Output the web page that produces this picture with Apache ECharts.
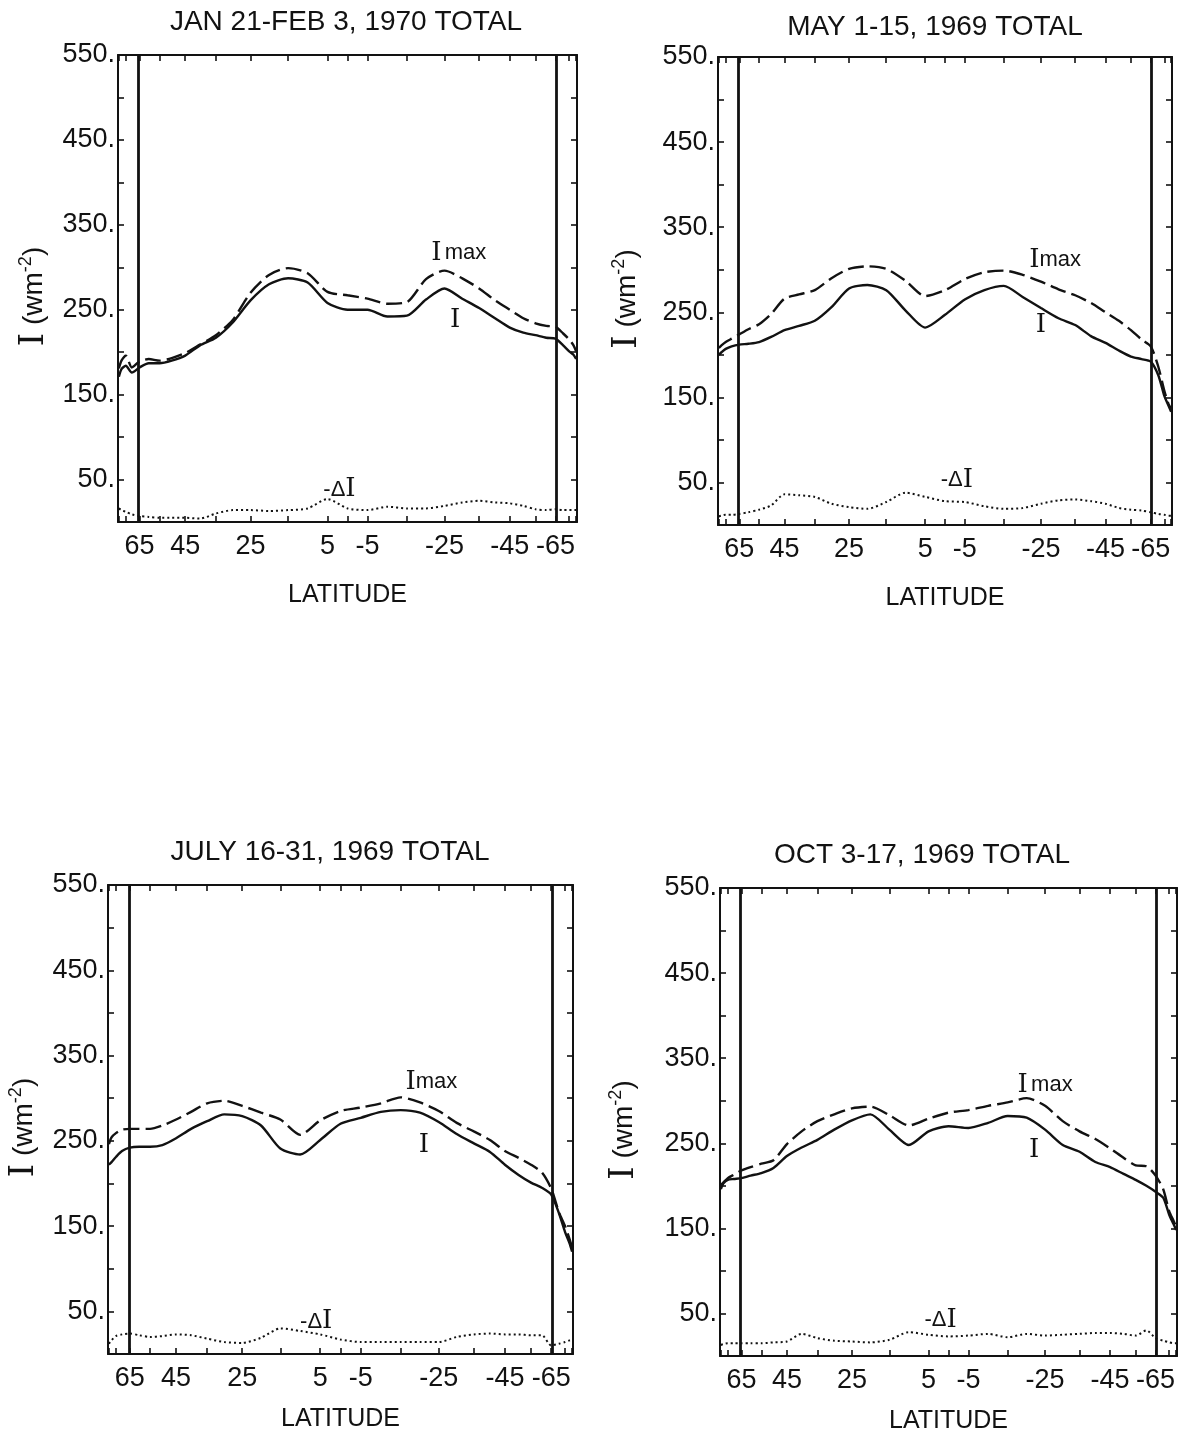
<!DOCTYPE html>
<html>
<head>
<meta charset="utf-8">
<title>Zonal mean irradiance by latitude</title>
<script src="https://cdn.jsdelivr.net/npm/echarts@6/dist/echarts.min.js"></script>
<style>
  html, body { margin: 0; padding: 0; background: #ffffff; }
  #chart { width: 1180px; height: 1439px; }
</style>
</head>
<body>
<div id="chart"></div>
<script>
// Latitude nodes (degrees, north positive) shared by every curve
const LATITUDES = [85, 80, 75, 70, 65, 60, 55, 50, 45, 40, 35, 30, 25, 20, 15, 10, 5, 0,
  -5, -10, -15, -20, -25, -30, -35, -40, -45, -50, -55, -60, -65, -70, -75, -80, -85];

// Axis furniture
const TICK_LATITUDES = [85, 75, 65, 55, 45, 35, 25, 15, 5, 0, -5, -15, -25, -35, -45, -55, -65, -75, -85];
const LABEL_LATITUDES = [65, 45, 25, 5, -5, -25, -45, -65];
const BOUNDARY_LATITUDES = [65, -65];
const Y_MIN = 0, Y_MAX = 550, Y_STEP = 50;

const TITLES = [
  'JAN 21-FEB 3, 1970 TOTAL',
  'MAY 1-15, 1969 TOTAL',
  'JULY 16-31, 1969 TOTAL',
  'OCT 3-17, 1969 TOTAL'
];

// Jan 21 - Feb 3, 1970
const janI = [171, 180, 184, 176, 182, 187, 187, 190, 196, 208, 217, 235, 261, 280, 287, 282, 258, 250,
  250, 242, 243, 262, 275, 263, 252, 240, 229, 223, 220, 217, 216, 208, 201, 197, 192];
const janImax = [181, 190, 196, 182, 189, 192, 190, 193, 199, 209, 220, 238, 270, 291, 299, 293, 271, 267,
  263, 257, 259, 286, 296, 287, 275, 261, 250, 240, 234, 231, 230, 222, 215, 208, 201];
const janDeltaI = [16, 14, 12, 9, 7, 6, 5, 5, 5, 4, 10, 14, 14, 13, 14, 16, 27, 16,
  14, 18, 16, 16, 19, 23, 25, 23, 22, 19, 15, 14, 15, 14, 14, 14, 14];

// May 1-15, 1969
const mayI = [200, 203, 207, 210, 212, 213, 215, 221, 229, 234, 240, 256, 278, 282, 276, 252, 232, 247,
  265, 276, 281, 268, 255, 243, 235, 222, 214, 205, 198, 195, 192, 176, 152, 140, 133];
const mayImax = [208, 211, 215, 219, 224, 230, 236, 248, 266, 271, 276, 290, 301, 304, 301, 287, 269, 276,
  289, 297, 299, 294, 286, 277, 270, 261, 250, 240, 229, 218, 210, 186, 158, 142, 137];
const mayDeltaI = [10, 11, 12, 12, 13, 15, 18, 23, 36, 35, 33, 25, 21, 19, 27, 38, 33, 28,
  27, 22, 19, 20, 25, 29, 30, 28, 25, 20, 18, 17, 15, 13, 12, 11, 11];

// July 16-31, 1969
const julI = [222, 225, 231, 238, 242, 243, 243, 245, 253, 264, 273, 281, 279, 268, 241, 234, 251, 270,
  277, 284, 286, 283, 272, 258, 247, 237, 222, 210, 201, 195, 187, 165, 143, 130, 120];
const julImax = [246, 254, 259, 263, 264, 264, 264, 268, 275, 284, 294, 297, 291, 283, 275, 257, 274, 285,
  289, 294, 301, 295, 285, 271, 261, 251, 238, 230, 222, 213, 194, 166, 150, 135, 125];
const julDeltaI = [12, 16, 21, 23, 24, 22, 20, 21, 23, 22, 18, 14, 13, 19, 30, 27, 23, 17,
  14, 14, 14, 14, 14, 20, 23, 24, 23, 23, 22, 22, 10, 12, 14, 16, 17];

// Oct 3-17, 1969
const octI = [196, 203, 207, 208, 209, 212, 215, 221, 235, 245, 254, 266, 277, 284, 266, 248, 264, 270,
  268, 274, 282, 280, 266, 248, 240, 228, 222, 214, 207, 200, 193, 186, 166, 155, 148];
const octImax = [201, 204, 209, 213, 218, 222, 226, 230, 249, 264, 276, 284, 291, 293, 283, 271, 279, 286,
  289, 294, 298, 303, 294, 276, 264, 255, 244, 233, 224, 223, 212, 196, 170, 159, 152];
const octDeltaI = [13, 14, 15, 15, 15, 15, 15, 16, 17, 26, 21, 18, 17, 16, 19, 28, 25, 23,
  24, 26, 22, 26, 24, 25, 26, 27, 27, 26, 24, 30, 21, 18, 16, 15, 15];

const SERIES_SETS = [
  { I: janI, Imax: janImax, dI: janDeltaI },
  { I: mayI, Imax: mayImax, dI: mayDeltaI },
  { I: julI, Imax: julImax, dI: julDeltaI },
  { I: octI, Imax: octImax, dI: octDeltaI }
];

// ---- layout and styling ----
const INK = '#121212';
const SANS = 'Liberation Sans';
const SERIF = 'DejaVu Serif';

// Plot boxes, two rows of two panels
const GRID_RECTS = [
  { left: 118, top: 55, width: 459, height: 467 },
  { left: 718, top: 57, width: 454, height: 468 },
  { left: 108, top: 885, width: 465, height: 469 },
  { left: 720, top: 888, width: 457, height: 468 }
];
const TITLE_POS = [[346, 22], [935, 27], [330, 852], [922, 855]];
const Y_NAME_GAP = [67, 74, 67, 79];
const X_NAME_GAP = [61, 61, 53, 53];

// Curve annotations: [latitude, value] anchors and text
const NOTE_IMAX = [[-29, 317], [-29, 311], [-23, 319], [-25, 318]];
const NOTE_I = [[-28, 238], [-25, 235], [-21, 245], [-22, 242]];
const NOTE_DI = [[2, 38], [-3, 53], [6, 38], [2, 42]];
const IMAX_TEXT = ['{i|I} {m|max}', '{i|I}{m|max}', '{i|I}{m|max}', '{i|I} {m|max}'];

// Latitude axis is area-weighted: position proportional to sin(latitude)
const DEG = Math.PI / 180;
const toAxis = lat => Math.sin(lat * DEG);
const fromAxis = v => Math.round(Math.asin(Math.max(-1, Math.min(1, v))) / DEG);

const NOTE_RICH = {
  i: { fontFamily: SERIF, fontSize: 26, color: INK },
  m: { fontFamily: SANS, fontSize: 22, color: INK }
};

function pairs(values) {
  return LATITUDES.map((lat, k) => [toAxis(lat), values[k]]);
}

function note(pos, text) {
  return {
    coord: [toAxis(pos[0]), pos[1]],
    label: { show: true, position: 'inside', formatter: text, rich: NOTE_RICH }
  };
}

const grids = [], xAxes = [], yAxes = [], series = [], graphics = [];

GRID_RECTS.forEach((rect, p) => {
  grids.push(Object.assign({ containLabel: false, show: false }, rect));

  const xCommon = {
    gridIndex: p, type: 'value', min: -1, max: 1, inverse: true,
    axisLine: { show: true, onZero: false, lineStyle: { color: INK, width: 2 } },
    axisTick: { show: true, inside: true, length: 6,
      customValues: TICK_LATITUDES.map(toAxis), lineStyle: { color: INK, width: 1.6 } },
    splitLine: { show: false }
  };
  xAxes.push(Object.assign({}, xCommon, {
    position: 'bottom',
    name: 'LATITUDE', nameLocation: 'middle', nameGap: X_NAME_GAP[p],
    nameTextStyle: { fontFamily: SANS, fontSize: 25, color: INK },
    axisLabel: { show: true, customValues: LABEL_LATITUDES.map(toAxis),
      formatter: v => String(fromAxis(v)), margin: 11,
      fontFamily: SANS, fontSize: 27, color: INK }
  }));
  xAxes.push(Object.assign({}, xCommon, { position: 'top', axisLabel: { show: false } }));

  const yCommon = {
    gridIndex: p, type: 'value', min: Y_MIN, max: Y_MAX, interval: Y_STEP,
    axisLine: { show: true, onZero: false, lineStyle: { color: INK, width: 2 } },
    axisTick: { show: true, inside: true, length: 6, lineStyle: { color: INK, width: 1.6 } },
    splitLine: { show: false }
  };
  yAxes.push(Object.assign({}, yCommon, {
    position: 'left',
    name: '{i|I}{t| (wm}{s|-2}{t|)}', nameLocation: 'middle', nameGap: Y_NAME_GAP[p],
    nameTextStyle: { fontFamily: SANS, fontSize: 28, color: INK, padding: [0, 16, 0, 0],
      rich: {
        i: { fontFamily: SERIF, fontSize: 34, color: INK },
        t: { fontFamily: SANS, fontSize: 28, color: INK },
        s: { fontFamily: SANS, fontSize: 18, color: INK, verticalAlign: 'top' }
      } },
    axisLabel: { show: true, margin: 3, fontFamily: SANS, fontSize: 27, color: INK,
      formatter: v => (v % 100 === 50 ? v + '.' : '') }
  }));
  yAxes.push(Object.assign({}, yCommon, { position: 'right', axisLabel: { show: false } }));

  const set = SERIES_SETS[p];
  const axisRef = { xAxisIndex: 2 * p, yAxisIndex: 2 * p };

  series.push(Object.assign({
    type: 'line', name: 'I', data: pairs(set.I), showSymbol: false, symbol: 'none', smooth: 0.25,
    lineStyle: { color: INK, width: 2.4, type: 'solid' },
    silent: true, animation: false,
    markLine: {
      silent: true, animation: false, symbol: ['none', 'none'],
      label: { show: false },
      lineStyle: { color: INK, width: 2.8, type: 'solid' },
      data: BOUNDARY_LATITUDES.map(lat => ({ xAxis: toAxis(lat) }))
    },
    markPoint: {
      silent: true, animation: false, symbol: 'circle', symbolSize: 1,
      itemStyle: { color: 'rgba(0,0,0,0)' },
      data: [
        note(NOTE_IMAX[p], IMAX_TEXT[p]),
        note(NOTE_I[p], '{i|I}'),
        note(NOTE_DI[p], '{m|-Δ}{i|I}')
      ]
    }
  }, axisRef));

  series.push(Object.assign({
    type: 'line', name: 'I max', data: pairs(set.Imax), showSymbol: false, symbol: 'none', smooth: 0.25,
    lineStyle: { color: INK, width: 2.4, type: [16, 6] },
    silent: true, animation: false
  }, axisRef));

  series.push(Object.assign({
    type: 'line', name: '-ΔI', data: pairs(set.dI), showSymbol: false, symbol: 'none', smooth: 0.25,
    lineStyle: { color: INK, width: 2, type: [2, 3] },
    silent: true, animation: false
  }, axisRef));

  graphics.push({
    type: 'text', x: TITLE_POS[p][0], y: TITLE_POS[p][1], silent: true,
    style: {
      text: TITLES[p], fill: INK, font: '28px "Liberation Sans"',
      textAlign: 'center', textVerticalAlign: 'middle',
      align: 'center', verticalAlign: 'middle'
    }
  });
});

const chart = echarts.init(document.getElementById('chart'), null, { renderer: 'canvas' });
chart.setOption({
  backgroundColor: '#ffffff',
  animation: false,
  grid: grids,
  xAxis: xAxes,
  yAxis: yAxes,
  series: series,
  graphic: graphics
});
</script>
</body>
</html>
